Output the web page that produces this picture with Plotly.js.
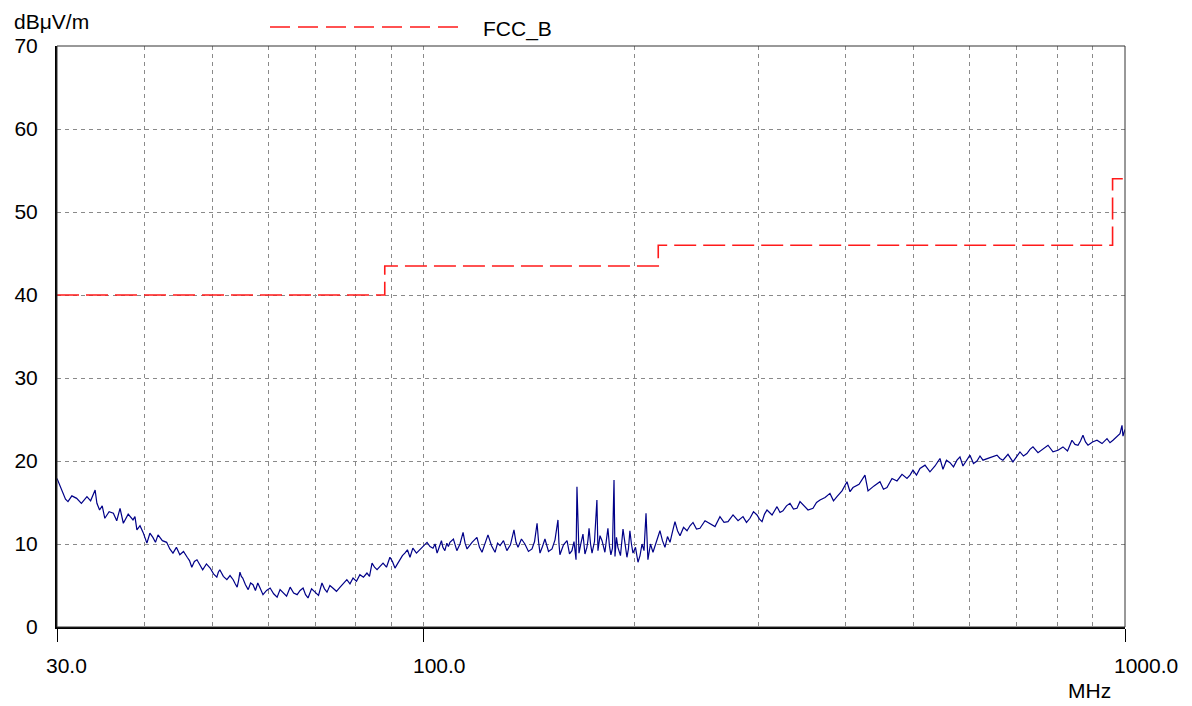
<!DOCTYPE html>
<html>
<head>
<meta charset="utf-8">
<script src="https://cdn.plot.ly/plotly-3.0.1.min.js"></script>
<style>html,body{margin:0;padding:0;background:#fff;}#chart{width:1192px;height:706px;}</style>
</head>
<body>
<div id="chart"></div>
<script>
const freqMHz = [
 30.0,30.3,30.6,30.85,31.1,31.5,32.0,32.5,33.1,33.5,
 34.0,34.2,34.5,34.8,35.1,35.6,36.1,36.5,36.9,37.3,
 37.9,38.5,38.75,39.0,39.4,39.8,40.3,40.7,41.1,41.45,
 41.8,42.4,43.0,43.45,43.9,44.4,44.9,45.45,46.0,46.35,
 46.7,47.1,47.5,47.95,48.4,49.0,49.6,50.15,50.7,50.95,
 51.2,51.8,52.4,52.95,53.5,53.85,54.2,54.45,54.7,54.95,
 55.2,55.7,56.2,56.65,57.1,57.55,58.0,58.5,59.0,59.7,
 60.4,61.1,61.8,62.4,63.0,63.75,64.5,65.25,66.0,66.65,
 67.3,67.85,68.4,69.2,70.0,70.8,71.6,72.2,72.8,73.5,
 74.2,75.1,76.0,76.85,77.7,78.5,79.3,80.2,81.1,82.05,
 83.0,83.7,84.4,85.1,85.8,86.65,87.5,88.5,89.5,90.25,
 91.0,91.75,92.5,93.25,94.0,94.8,95.6,96.05,96.5,97.65,
 98.8,99.95,101.1,102.1,103.1,103.8,104.5,105.0,105.5,106.0,
 106.5,107.2,107.9,108.45,109.0,110.25,111.5,112.65,113.8,114.55,
 115.3,117.2,119.1,120.1,121.1,122.3,123.5,124.95,126.4,127.45,
 128.5,129.95,131.4,132.95,134.5,135.4,136.3,137.85,139.4,141.05,
 142.7,143.9,145.1,145.8,146.5,147.7,148.9,150.65,152.4,153.9,
 155.4,155.9,156.4,158.25,160.1,161.4,162.7,163.8,164.9,165.4,
 166.5,167.6,168.7,169.8,170.9,171.5,172.1,172.95,173.8,175.2,
 176.6,177.2,178.4,179.6,180.45,181.3,182.2,183.1,184.0,184.9,
 185.85,186.8,187.4,188.3,189.2,190.8,192.4,193.65,194.9,195.85,
 196.8,197.8,198.8,200.45,202.1,203.45,204.8,206.15,207.5,208.8,
 210.55,212.3,214.75,217.2,219.0,220.8,222.65,224.5,226.35,228.2,
 230.1,232.0,234.7,237.4,239.75,242.1,244.9,247.7,251.85,256.0,
 260.25,264.5,268.05,271.6,273.85,276.1,280.7,285.3,288.6,291.9,
 295.3,298.7,301.2,303.7,306.2,308.7,313.85,319.0,322.15,325.3,
 329.1,332.9,336.75,340.6,344.0,347.4,353.2,359.0,363.2,367.4,
 373.5,379.6,384.0,388.4,394.9,401.4,405.4,409.4,417.6,425.8,
 430.1,438.7,447.3,452.5,457.7,465.35,473.0,480.9,488.8,493.65,
 498.5,504.3,510.1,518.6,527.1,535.9,544.7,550.1,556.5,562.9,
 569.45,576.0,581.7,587.4,594.25,601.1,608.1,615.1,621.2,627.3,
 642.0,656.8,663.3,669.8,681.0,692.2,700.25,708.3,716.5,724.7,
 731.95,739.2,751.55,763.9,776.65,789.4,802.55,815.7,828.0,840.2,
 848.6,857.0,864.05,871.1,878.35,885.6,898.85,912.1,927.35,942.6,
 951.95,961.3,972.5,983.7,990.2,993.4,1000
];
const levelDb = [
 17.9,17.0,16.3,15.4,15.1,15.8,15.5,14.9,15.7,15.2,
 16.5,14.9,14.1,14.6,13.1,13.9,13.7,12.8,14.3,12.5,
 13.6,12.9,13.3,11.7,12.2,11.4,10.1,11.3,10.8,10.2,
 11.1,10.4,10.2,9.4,8.9,9.6,8.7,9.1,8.4,8.0,
 7.2,7.9,8.1,7.4,6.9,7.6,7.1,6.4,6.0,6.6,
 6.9,6.1,5.7,6.2,5.7,5.2,4.8,5.6,6.6,6.1,
 5.9,5.1,4.5,5.3,5.1,4.4,5.3,4.6,3.9,4.4,
 4.7,4.0,3.6,4.5,4.1,3.7,4.8,4.1,3.9,4.4,
 4.7,3.9,3.5,4.6,4.2,3.8,5.3,4.6,4.2,5.0,
 4.7,4.3,4.8,5.2,5.7,5.2,5.9,5.5,6.3,6.0,
 6.5,6.1,7.7,7.2,6.9,7.3,7.7,7.2,8.4,7.9,
 7.1,7.6,8.1,8.6,8.9,9.3,8.4,8.9,9.5,8.9,
 9.3,9.8,10.2,9.7,9.5,10.0,8.9,9.4,9.9,10.4,
 9.6,9.2,10.1,9.7,10.2,10.6,9.2,10.0,11.4,10.1,
 9.4,10.2,10.8,9.6,9.0,10.0,11.1,9.8,9.0,10.1,
 9.8,10.4,9.2,9.9,11.7,10.2,9.6,10.6,10.0,9.1,
 9.4,10.3,12.5,10.3,8.9,9.7,10.6,9.1,9.4,10.5,
 12.9,10.1,8.7,9.9,10.4,8.8,9.2,10.3,8.1,16.9,
 8.9,10.1,11.2,8.8,9.6,10.5,11.9,10.0,8.9,10.3,
 15.3,9.2,11.0,10.4,9.7,9.0,10.5,11.9,9.8,8.7,
 9.5,17.7,8.5,10.8,9.6,8.6,11.8,9.9,8.4,9.4,
 11.6,10.0,8.9,9.6,7.8,8.6,10.0,9.2,13.7,8.1,
 10.0,9.0,10.3,11.6,10.4,9.6,10.9,10.2,11.5,12.7,
 11.6,11.0,12.0,11.6,12.2,12.6,11.8,11.9,12.8,12.5,
 12.1,13.3,12.6,12.7,13.1,13.5,12.8,13.3,12.6,13.1,
 13.9,13.5,13.0,12.7,13.6,14.1,13.5,14.5,13.8,14.0,
 14.6,14.9,14.2,14.3,15.1,14.7,14.1,14.3,15.0,15.3,
 15.6,16.1,15.2,15.7,16.4,17.5,16.3,16.8,17.2,18.3,
 16.4,17.0,17.5,16.6,16.8,17.9,17.6,18.4,17.9,18.3,
 18.9,18.3,19.1,19.5,18.7,19.4,20.3,19.0,20.1,19.8,
 19.3,20.1,20.5,19.4,20.0,20.7,19.7,20.0,20.6,20.1,
 20.4,20.7,20.3,20.1,20.8,19.9,20.5,21.1,20.6,20.9,
 21.4,21.7,21.0,21.5,21.9,21.1,21.3,21.7,21.2,22.5,
 22.0,21.9,22.4,23.1,22.3,21.9,22.3,22.5,22.1,22.7,
 22.2,22.5,22.9,23.3,24.3,23.0,23.8
];
// FCC class B limit
const limitName = 'FCC_B';
const limitFreq = [30, 88, 216, 960, 1000];
const limitDb   = [40, 43.5, 46, 54, 54];

// Axis ticks
const xTickVals = [30, 100, 1000];
const xTickText = ['30.0', '100.0', '1000.0'];
const xGridMinor = [40, 50, 60, 70, 80, 90, 200, 300, 400, 500, 600, 700, 800, 900];
const yTickVals = [0, 10, 20, 30, 40, 50, 60, 70];
const yUnit = 'dBμV/m';
const xUnit = 'MHz';

const FONT = 'Liberation Sans, Arial, sans-serif';
const FS = 21;

const traces = [
  {x: limitFreq, y: limitDb, type: 'scatter', mode: 'lines', name: limitName,
   line: {color: '#ff1a1a', width: 1.6, shape: 'hv', dash: '22px,7px'}, hoverinfo: 'x+y'},
  {x: freqMHz, y: levelDb, type: 'scatter', mode: 'lines', name: 'Trace',
   line: {color: '#000088', width: 1.2}, hoverinfo: 'x+y'}
];

const annotations = xTickVals.map((v, i) => ({
  x: Math.log10(v), xref: 'x', y: 0, yref: 'paper', yanchor: 'middle', xanchor: 'left',
  xshift: -13, yshift: -38, text: xTickText[i], showarrow: false,
  font: {family: FONT, size: FS, color: '#000'}
}));
annotations.push({x: 1, xref: 'paper', y: 0, yref: 'paper', xanchor: 'right', yanchor: 'middle',
  xshift: -12, yshift: -63, text: xUnit, showarrow: false, font: {family: FONT, size: FS, color: '#000'}});
annotations.push({x: 0, xref: 'paper', y: 1, yref: 'paper', xanchor: 'left', yanchor: 'middle',
  xshift: -45, yshift: 25, text: yUnit, showarrow: false, font: {family: FONT, size: FS, color: '#000'}});
annotations.push({x: 0, xref: 'paper', y: 1, yref: 'paper', xanchor: 'left', yanchor: 'middle',
  xshift: 424, yshift: 17, text: limitName, showarrow: false, font: {family: FONT, size: FS, color: '#000'}});

const layout = {
  width: 1192, height: 706,
  margin: {l: 57, r: 67, t: 46, b: 79, pad: 0},
  paper_bgcolor: '#fff', plot_bgcolor: '#fff',
  showlegend: false,
  font: {family: FONT, size: FS, color: '#000'},
  xaxis: {
    type: 'log', range: [Math.log10(30), Math.log10(1000)],
    tickvals: xTickVals, ticktext: xTickText, showticklabels: false,
    ticks: 'outside', ticklen: 13, tickwidth: 1, tickcolor: '#000',
    showgrid: true, gridcolor: '#8a8a8a', gridwidth: 1, griddash: '4px,4px',
    minor: {tickvals: xGridMinor, showgrid: true, gridcolor: '#8a8a8a', gridwidth: 1, griddash: '4px,4px', ticks: ''},
    showline: true, linecolor: '#000', linewidth: 2, zeroline: false, fixedrange: true
  },
  yaxis: {
    range: [0, 70], tickvals: yTickVals, ticks: '', ticklabelstandoff: 13,
    tickfont: {family: FONT, size: FS, color: '#000'},
    showgrid: true, gridcolor: '#8a8a8a', gridwidth: 1, griddash: '4px,4px',
    showline: true, linecolor: '#000', linewidth: 2, zeroline: false, fixedrange: true
  },
  shapes: [
    {type: 'rect', xref: 'paper', yref: 'paper', x0: 0, x1: 1, y0: 0, y1: 1,
     line: {color: '#333', width: 1}, fillcolor: 'rgba(0,0,0,0)'},
    {type: 'line', xref: 'paper', yref: 'paper', x0: 213/1068, x1: 403/1068,
     y0: 1 + 19/581, y1: 1 + 19/581, line: {color: '#ff1a1a', width: 1.6, dash: '20px,8px'}}
  ],
  annotations: annotations
};

Plotly.newPlot('chart', traces, layout, {displayModeBar: false, staticPlot: true});
</script>
</body>
</html>
